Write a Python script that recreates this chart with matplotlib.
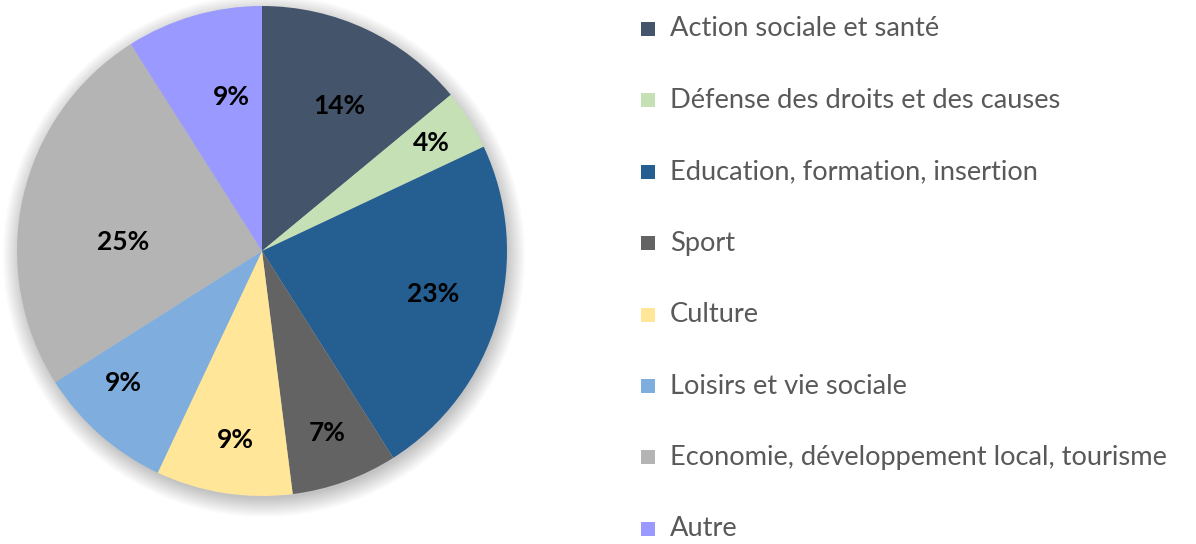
import numpy as np
import matplotlib.pyplot as plt
from matplotlib.patches import Circle, Rectangle

categories = [
    "Action sociale et santé",
    "Défense des droits et des causes",
    "Education, formation, insertion",
    "Sport",
    "Culture",
    "Loisirs et vie sociale",
    "Economie, développement local, tourisme",
    "Autre",
]
shares = [14, 4, 23, 7, 9, 9, 25, 9]
colors = ["#44546A", "#C5E0B4", "#255E91", "#636363",
          "#FFE699", "#7FAEDE", "#B4B4B4", "#9999FF"]

# label placement (radius fraction, angle tweak in degrees) - Excel "best fit" style
lbl_r = [0.67, 0.82, 0.72, 0.79, 0.78, 0.78, 0.57, 0.64]
lbl_dang = [-3, 0, 2, 0, 1, -5, 9, -5]

plt.rcParams['font.family'] = ['Lato', 'DejaVu Sans']

W, H = 1196, 544
fig = plt.figure(figsize=(W / 100, H / 100), dpi=100)

R = 245
cx, cy = 262, 251
half = 1.02 * R
ax = fig.add_axes([(cx - half) / W, 1 - (cy + half) / H, 2 * half / W, 2 * half / H])

# soft shadow behind the pie
for k in range(20):
    ax.add_patch(Circle((0.008, -0.02), 0.99 + 0.004 * k, color='black',
                        alpha=0.012, lw=0, zorder=0, clip_on=False))

wedges, _ = ax.pie(shares, colors=colors, startangle=90, counterclock=False,
                   radius=1.0, wedgeprops=dict(linewidth=0), frame=True)
ax.set_xlim(-1.02, 1.02)
ax.set_ylim(-1.02, 1.02)
ax.set_aspect('equal')
ax.axis('off')

for w, v, r, da in zip(wedges, shares, lbl_r, lbl_dang):
    ang = np.deg2rad((w.theta1 + w.theta2) / 2 + da)
    ax.text(r * np.cos(ang), r * np.sin(ang), f"{v}%", ha='center', va='center',
            fontsize=19, fontweight='bold', color='black')

# legend
lx, tx = 641, 670
y0, dy = 29, 71.4
for i, (lab, c) in enumerate(zip(categories, colors)):
    y = y0 + i * dy
    fig.patches.append(Rectangle(((lx) / W, 1 - (y + 7) / H), 14 / W, 14 / H,
                                 transform=fig.transFigure, color=c, lw=0))
    fig.text(tx / W, 1 - y / H, lab, ha='left', va='center',
             fontsize=19.6, color='#595959')

fig.savefig("out.png", dpi=100)
